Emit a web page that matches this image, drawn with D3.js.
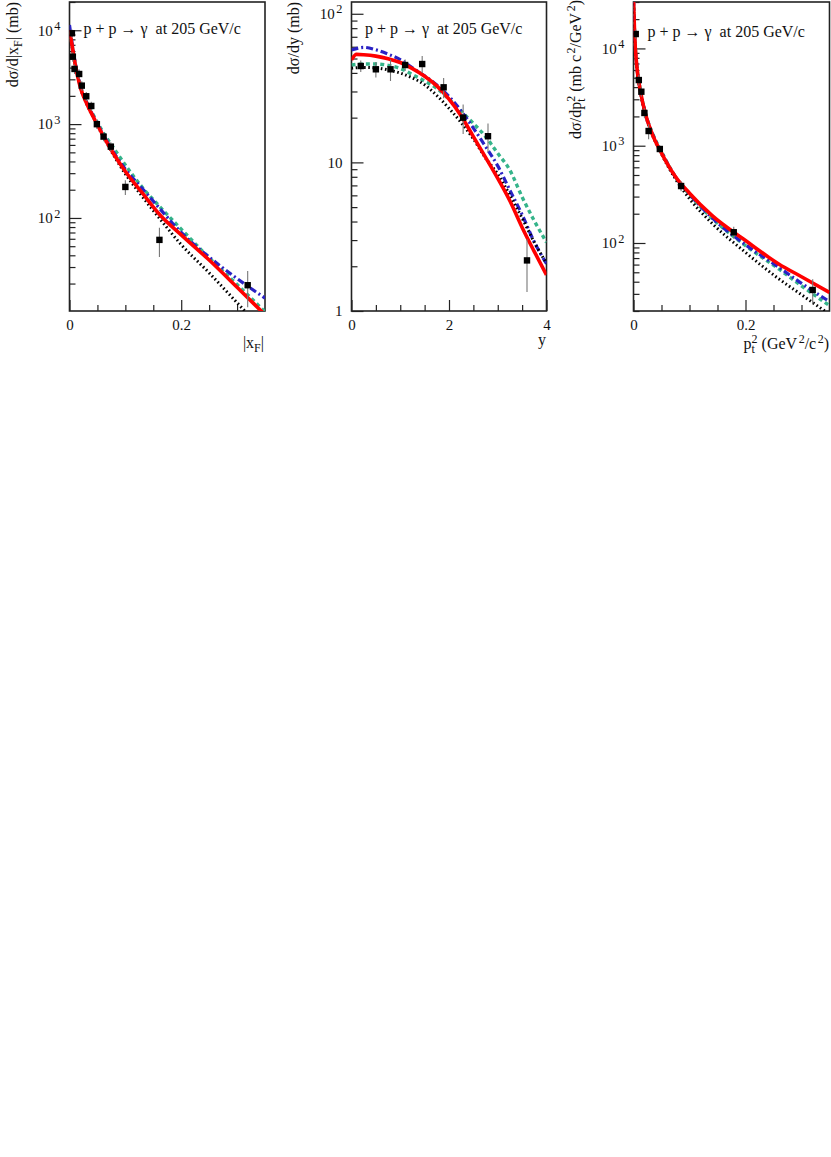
<!DOCTYPE html>
<html><head><meta charset="utf-8">
<script src="https://cdn.jsdelivr.net/npm/d3@7"></script>
<style>
body{margin:0;background:#fff}
svg text{font-family:"Liberation Serif","Times New Roman",serif;fill:#111}
</style>
</head><body>
<svg id="c" width="831" height="1157"></svg>
<script>
// ---------------- DATA ----------------
// Panel 1 : d sigma / d|xF|
const xfPointX   = [0.0043,0.006,0.009,0.0173,0.022,0.030,0.039,0.049,0.061,0.074,0.100,0.161,0.319];
const xfPointY   = [9290,5230,3870,3420,2570,1980,1560,998,736,575,214,58.4,19.2];
const xfPointErr = [900,600,450,400,300,220,170,110,80,65,38,20,8];
const xfCurveX   = [0,0.005,0.01,0.02,0.03,0.045,0.06,0.08,0.1,0.13,0.16,0.2,0.25,0.3,0.35];
const xfRed   = [10000,6700,4400,2400,1700,1120,760,471,313,186,111,66,35.6,18.3,9.3];
const xfBlack = [10000,6600,4350,2380,1680,1100,745,455,295,170,101,52,26,12.5,6];
const xfGreen = [9800,6700,4450,2480,1760,1180,820,545,366,213,135,76,37.6,19.5,10];
const xfBlue  = [11400,7000,4600,2500,1740,1140,780,490,331,207,129,70,38.3,22.6,14];
const xfYTicks = [100,1000,10000];
const xfYTickLabels = ["10^{2}","10^{3}","10^{4}"];
const xfXTicks = [0,0.2];
const xfXTickLabels = ["0","0.2"];

// Panel 2 : d sigma / dy
const yPointX   = [0.19,0.5,0.8,1.1,1.45,1.89,2.29,2.8,3.6];
const yPointY   = [44.5,42.3,42.3,45.2,45.9,32,20,15,2.19];
const yPointErr = [4,5,7,4,6,5,4.5,3.3,0.85];
const yRedX   = [0,0.1,0.25,0.5,0.75,1,1.25,1.5,1.75,2,2.25,2.5,2.75,3,3.25,3.5,3.75,4];
const yRed    = [48.9,53.3,53,51.9,49.9,47,42.7,38,32.7,26.6,20.5,14.9,10.8,7.8,5.5,3.65,2.51,1.75];
const yCurveX = [0,0.25,0.5,0.75,1,1.25,1.5,1.75,2,2.25,2.5,2.75,3,3.25,3.5,3.75,4];
const yBlue   = [57,59.4,57.2,53.5,49.2,43.3,38.2,33.2,27.8,22.2,17,12.8,9.47,6.48,4.44,2.91,2.08];
const yGreen  = [45.2,45.9,45.9,45,42.8,39,35.3,31.5,26.6,22.1,18.3,14.9,11.5,8.85,5.85,4.04,2.9];
const yBlack  = [43,43.5,43.2,41.9,39.9,37,33.3,28.2,23.1,18.5,14.4,10.7,8.35,6.01,4.21,2.9,2.09];
const yYTicks = [1,10,100];
const yYTickLabels = ["1","10","10^{2}"];
const yXTicks = [0,2,4];
const yXTickLabels = ["0","2","4"];

// Panel 3 : d sigma / dpt^2
const ptPointX   = [0.004,0.0095,0.014,0.0195,0.027,0.047,0.085,0.179,0.32];
const ptPointY   = [14060,4730,3590,2170,1416,925,385,129,32.9];
const ptPointErr = [1500,600,400,250,250,80,45,18,9.5];
const ptCurveX = [0,0.002,0.006,0.012,0.021,0.033,0.05,0.075,0.1,0.14,0.2,0.26,0.3,0.35];
const ptRed   = [32000,14000,6500,3740,2150,1342,840,480,325,192,106,60.5,45,31];
const ptBlack = [32000,13800,6400,3700,2120,1320,820,455,285,160,80,42.6,29.4,18.5];
const ptGreen = [32000,14200,6600,3800,2190,1380,870,475,314,180,94,53.8,36.3,22.7];
const ptBlue  = [32000,14100,6550,3780,2170,1360,855,478,318,182,96,56,38.5,25];
const ptYTicks = [100,1000,10000];
const ptYTickLabels = ["10^{2}","10^{3}","10^{4}"];
const ptXTicks = [0,0.2];
const ptXTickLabels = ["0","0.2"];

const legendText = "p + p \u2192 \u03b3  at 205 GeV/c";

// ---------------- DRAWING ----------------
const svg = d3.select("#c");
const defs = svg.append("defs");

function rich(sel, str, fs, supScale) {
  sel.text(null);
  const sc = supScale || 0.75;
  const re = /_\{([^}]*)\}|\^\{([^}]*)\}|([^_^]+)/g;
  let m, shift = 0, lastSub = null;
  while ((m = re.exec(str))) {
    const kind = m[1] != null ? "sub" : (m[2] != null ? "sup" : "n");
    const txt = m[1] != null ? m[1] : (m[2] != null ? m[2] : m[3]);
    const target = kind === "sub" ? 0.28*fs : (kind === "sup" ? -0.38*fs : 0);
    const ts = sel.append("tspan").text(txt);
    if (kind !== "n") ts.attr("font-size", sc*fs);
    if (target - shift) ts.attr("dy", target - shift);
    if (kind === "sup" && lastSub) ts.attr("dx", -lastSub.node().getComputedTextLength());
    else if (kind === "sup") ts.attr("dx", 1.5);
    lastSub = kind === "sub" ? ts : null;
    shift = target;
  }
}

const styles = {
  green: {color:"#35b48a", width:3.4, dash:"4,3.2"},
  blue:  {color:"#2a22c4", width:3.2, dash:"7,3,2,3"},
  black: {color:"#000000", width:3.0, dash:"1.6,2.6"},
  red:   {color:"#ff0000", width:3.6, dash:null}
};

function panel(cfg) {
  const b = cfg.box;
  const x = d3.scaleLinear().domain(cfg.xDomain).range([b.left, b.right]);
  const y = d3.scaleLog().domain(cfg.yDomain).range([b.bottom, b.top]);
  const g = svg.append("g");
  const clipId = "clip" + cfg.id;
  defs.append("clipPath").attr("id", clipId).append("rect")
    .attr("x", b.left).attr("y", b.top).attr("width", b.right - b.left).attr("height", b.bottom - b.top);

  const yMinor = y.ticks().filter(v => Math.abs(Math.log10(v) - Math.round(Math.log10(v))) > 1e-9);
  const ayMinor = g.append("g").attr("transform", `translate(${b.left},0)`)
    .call(d3.axisLeft(y).tickValues(yMinor).tickSize(-6).tickFormat(""));
  const ayMajor = g.append("g").attr("transform", `translate(${b.left},0)`)
    .call(d3.axisLeft(y).tickValues(cfg.yTicks).tickSize(-12).tickPadding(9).tickFormat((d,i) => cfg.yTickLabels[i]));
  const axMinor = g.append("g").attr("transform", `translate(0,${b.bottom})`)
    .call(d3.axisBottom(x).tickValues(cfg.xMinor).tickSize(-6).tickFormat(""));
  const axMajor = g.append("g").attr("transform", `translate(0,${b.bottom})`)
    .call(d3.axisBottom(x).tickValues(cfg.xTicks).tickSize(-11).tickPadding(8).tickFormat((d,i) => cfg.xTickLabels[i]));
  [ayMinor, ayMajor, axMinor, axMajor].forEach(a => {
    a.select(".domain").remove();
    a.attr("font-family", null).attr("font-size", null).attr("color", "#222");
    a.selectAll("line").attr("stroke-width", 1.2);
  });
  ayMajor.selectAll("text").attr("font-size", 15).each(function(d,i){ rich(d3.select(this), cfg.yTickLabels[i], 15, 0.82); });
  axMajor.selectAll("text").attr("font-size", 15);

  g.append("rect").attr("x", b.left).attr("y", b.top).attr("width", b.right - b.left).attr("height", b.bottom - b.top)
    .attr("fill", "none").attr("stroke", "#222").attr("stroke-width", 1.6);

  const plot = g.append("g").attr("clip-path", `url(#${clipId})`);
  cfg.curves.forEach(c => {
    const st = styles[c.style];
    const pts = c.x.map((xv,i) => [xv, c.y[i]]);
    const line = d3.line().x(d => x(d[0])).y(d => y(d[1])).curve(d3.curveMonotoneX);
    plot.append("path").attr("d", line(pts)).attr("fill", "none")
      .attr("stroke", st.color).attr("stroke-width", st.width)
      .attr("stroke-dasharray", st.dash);
  });

  const ymin = cfg.yDomain[0];
  cfg.px.forEach((xv,i) => {
    const v = cfg.py[i], e = cfg.pe[i];
    plot.append("line").attr("x1", x(xv)).attr("x2", x(xv))
      .attr("y1", y(Math.max(v - e, ymin*0.5))).attr("y2", y(v + e))
      .attr("stroke", "#777").attr("stroke-width", 1.1);
  });
  cfg.px.forEach((xv,i) => {
    plot.append("rect").attr("x", x(xv) - 3.2).attr("y", y(cfg.py[i]) - 3.2)
      .attr("width", 6.4).attr("height", 6.4).attr("fill", "#000");
  });

  g.append("text").attr("x", b.left + cfg.legDx).attr("y", cfg.legY).attr("font-size", 16)
    .style("white-space", "pre").text(legendText);

  const yt = g.append("text").attr("font-size", 16).attr("text-anchor", "end")
    .attr("transform", `translate(${cfg.yTitlePos[0]},${cfg.yTitlePos[1]}) rotate(-90)`);
  rich(yt, cfg.yTitle, 16);
  const xt = g.append("text").attr("font-size", 16).attr("text-anchor", "end")
    .attr("x", cfg.xTitlePos[0]).attr("y", cfg.xTitlePos[1]);
  rich(xt, cfg.xTitle, 16);
}

const box1 = {left:69.5, right:265, top:2, bottom:311};
const box2 = {left:351.5, right:546.5, top:2, bottom:311};
const box3 = {left:633.5, right:829.5, top:2, bottom:311};

panel({
  id:1, box:box1, xDomain:[0,0.35], yDomain:[10.2,20000],
  yTicks:xfYTicks, yTickLabels:xfYTickLabels, xTicks:xfXTicks, xTickLabels:xfXTickLabels,
  xMinor:[0.05,0.1,0.15,0.25,0.3],
  curves:[
    {x:xfCurveX, y:xfGreen, style:"green"},
    {x:xfCurveX, y:xfBlue, style:"blue"},
    {x:xfCurveX, y:xfBlack, style:"black"},
    {x:xfCurveX, y:xfRed, style:"red"}
  ],
  px:xfPointX, py:xfPointY, pe:xfPointErr,
  legDx:14, legY:34,
  yTitle:"d\u03c3/d|x_{F}| (mb)", yTitlePos:[18,2],
  xTitle:"|x_{F}|", xTitlePos:[264,348]
});

panel({
  id:2, box:box2, xDomain:[0,4], yDomain:[1,120],
  yTicks:yYTicks, yTickLabels:yYTickLabels, xTicks:yXTicks, xTickLabels:yXTickLabels,
  xMinor:[0.5,1,1.5,2.5,3,3.5],
  curves:[
    {x:yCurveX, y:yGreen, style:"green"},
    {x:yCurveX, y:yBlue, style:"blue"},
    {x:yCurveX, y:yBlack, style:"black"},
    {x:yRedX, y:yRed, style:"red"}
  ],
  px:yPointX, py:yPointY, pe:yPointErr,
  legDx:13.5, legY:34,
  yTitle:"d\u03c3/dy (mb)", yTitlePos:[299,2],
  xTitle:"y", xTitlePos:[546,345]
});

panel({
  id:3, box:box3, xDomain:[0,0.35], yDomain:[20,30000],
  yTicks:ptYTicks, yTickLabels:ptYTickLabels, xTicks:ptXTicks, xTickLabels:ptXTickLabels,
  xMinor:[0.05,0.1,0.15,0.25,0.3],
  curves:[
    {x:ptCurveX, y:ptGreen, style:"green"},
    {x:ptCurveX, y:ptBlue, style:"blue"},
    {x:ptCurveX, y:ptBlack, style:"black"},
    {x:ptCurveX, y:ptRed, style:"red"}
  ],
  px:ptPointX, py:ptPointY, pe:ptPointErr,
  legDx:14, legY:37,
  yTitle:"d\u03c3/dp_{t}^{2} (mb c^{2}/GeV^{2})", yTitlePos:[581,0],
  xTitle:"p_{t}^{2} (GeV^{2}/c^{2})", xTitlePos:[829,349]
});
</script>
</body></html>
